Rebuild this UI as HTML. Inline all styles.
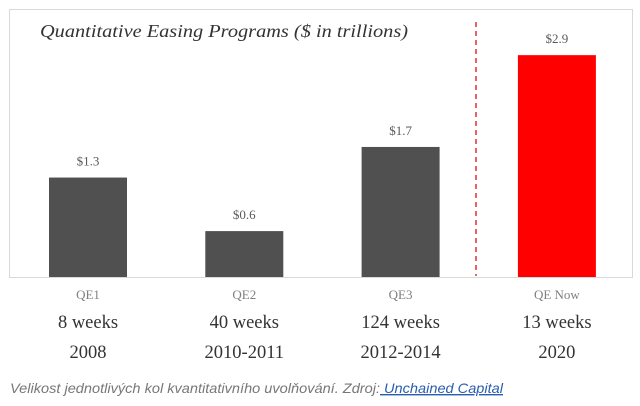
<!DOCTYPE html>
<html><head><meta charset="utf-8"><style>
body{margin:0;background:#fff;width:640px;height:406px;overflow:hidden}
svg{display:block}
</style></head><body>
<svg width="640" height="406" xmlns="http://www.w3.org/2000/svg">
<rect x="9.5" y="9.5" width="623" height="268" fill="#fff" stroke="#d9d9d9"/>
<text x="40" y="37" font-family="Liberation Serif, serif" font-style="italic" font-size="18" fill="#333" textLength="368" lengthAdjust="spacingAndGlyphs">Quantitative Easing Programs ($ in trillions)</text>
<line x1="476" y1="22" x2="476" y2="276" stroke="#e03030" stroke-width="1.5" stroke-dasharray="5,4"/>
<g id="bars"></g>
<text x="10" y="393" font-family="Liberation Sans, sans-serif" font-style="italic" font-size="14" fill="#777" textLength="493" lengthAdjust="spacingAndGlyphs">Velikost jednotlivých kol kvantitativního uvolňování. Zdroj:<tspan fill="#2a5db0" text-decoration="underline"> Unchained Capital</tspan></text>
</svg>
<script>
const categories=["QE1","QE2","QE3","QE Now"];
const values=[1.3,0.6,1.7,2.9];
const valueLabels=["$1.3","$0.6","$1.7","$2.9"];
const weeks=["8 weeks","40 weeks","124 weeks","13 weeks"];
const years=["2008","2010-2011","2012-2014","2020"];
const colors=["#505050","#505050","#505050","#ff0000"];
const base=277, scale=76.5;
const y=v=>base-v*scale;
const xc=i=>88+i*156.3;
const g=document.getElementById('bars');
const NS="http://www.w3.org/2000/svg";
function t(x,yy,s,size,fill,name){const e=document.createElementNS(NS,'text');e.setAttribute('x',x);e.setAttribute('y',yy);e.setAttribute('text-anchor','middle');e.setAttribute('font-family','Liberation Serif, serif');e.setAttribute('font-size',size);e.setAttribute('fill',fill);e.textContent=s;


g.appendChild(e);}
values.forEach((v,i)=>{
const r=document.createElementNS(NS,'rect');
r.setAttribute('x',xc(i)-39);r.setAttribute('width',78);r.setAttribute('y',y(v));r.setAttribute('height',base-y(v));r.setAttribute('fill',colors[i]);


g.appendChild(r);
t(xc(i),y(v)-12,valueLabels[i],13,'#595959','value-label');
t(xc(i),299,categories[i],13,'#7f7f7f','category-label');
t(xc(i),328,weeks[i],18.5,'#333','weeks-label');
t(xc(i),358,years[i],18.5,'#333','year-label');
});
</script>
</body></html>
